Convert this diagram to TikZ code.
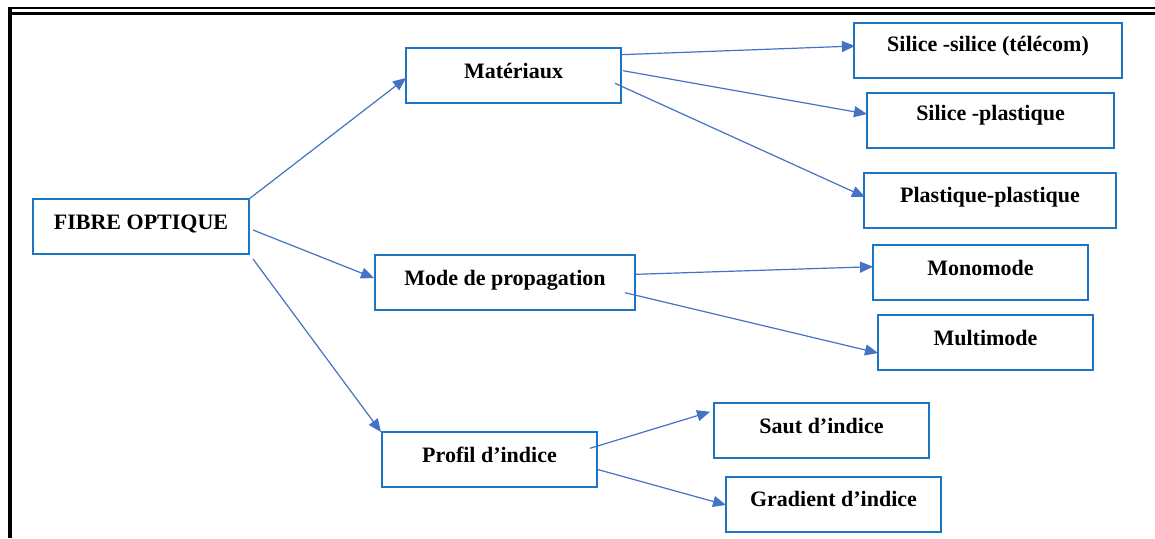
\documentclass[tikz,border=0pt]{standalone}
\usepackage{fontspec}
\setmainfont{Liberation Serif}
\usetikzlibrary{arrows.meta}
\definecolor{boxblue}{HTML}{1C74C4}
\definecolor{arrblue}{HTML}{4472C4}
\tikzset{
  box/.style={draw=boxblue, line width=2pt, inner sep=0pt, outer sep=0pt,
    anchor=north west, minimum height=55pt, text height=30pt, text depth=25pt,
    font=\bfseries\fontsize{22}{26}\selectfont},
  conn/.style={draw=arrblue, line width=1.2pt, -{Triangle[length=13pt,width=11pt]}},
  frame/.style={draw=black}
}
\begin{document}
\begin{tikzpicture}[x=1pt,y=-1pt]
\useasboundingbox (0,0) rectangle (1155,538);
% frame
\draw[frame, line width=1.5pt] (8,8) -- (1155,8);
\draw[frame, line width=2.7pt] (11,13.4) -- (1155,13.4);
\draw[frame, line width=3.4pt] (9.8,7.3) -- (9.8,538);
% nodes
\node[box, minimum width=216pt] (fibre) at (33,199) {FIBRE OPTIQUE};
\node[box, minimum width=215pt] (mat) at (406,48) {Matériaux};
\node[box, minimum width=268pt, text height=28.5pt, text depth=26.5pt] (ss) at (854,23) {Silice -silice (télécom)};
\node[box, minimum width=247pt, text height=27.5pt, text depth=27.5pt] (sp) at (867,93) {Silice -plastique};
\node[box, minimum width=252pt, text height=29pt, text depth=26pt] (pp) at (864,173) {Plastique-plastique};
\node[box, minimum width=260pt] (mode) at (375,255) {Mode de propagation};
\node[box, minimum width=215pt] (mono) at (873,245) {Monomode};
\node[box, minimum width=215pt] (multi) at (878,315) {Multimode};
\node[box, minimum width=215pt] (profil) at (382,432) {Profil d’indice};
\node[box, minimum width=215pt] (saut) at (714,403) {Saut d’indice};
\node[box, minimum width=215pt, text height=29pt, text depth=26pt] (grad) at (726,477) {Gradient d’indice};
% connectors
\draw[conn] (fibre.north east) -- ([yshift=-2.5pt]mat.west);
\draw[conn] ([shift={(4pt,-3.5pt)}]fibre.east) -- ([shift={(-1pt,4.5pt)}]mode.west);
\draw[conn] ([shift={(4pt,-5pt)}]fibre.south east) -- ([shift={(-1pt,0pt)}]profil.north west);
\draw[conn] ([yshift=-6.7pt]mat.north east) -- ([shift={(1pt,4.5pt)}]ss.west);
\draw[conn] ([shift={(2pt,4.8pt)}]mat.east) -- ([yshift=6.5pt]sp.west);
\draw[conn] ([shift={(-6pt,-7.8pt)}]mat.east) -- ([shift={(1pt,3.5pt)}]pp.west);
\draw[conn] ([shift={(1pt,8.2pt)}]mode.east) -- ([yshift=5.8pt]mono.west);
\draw[conn] ([shift={(-10pt,-10.2pt)}]mode.east) -- ([yshift=-10.5pt]multi.west);
\draw[conn] ([shift={(-7pt,11.2pt)}]profil.east) -- ([shift={(-4pt,18.7pt)}]saut.west);
\draw[conn] ([yshift=-9.8pt]profil.east) -- ([yshift=-0.5pt]grad.west);
\end{tikzpicture}
\end{document}
